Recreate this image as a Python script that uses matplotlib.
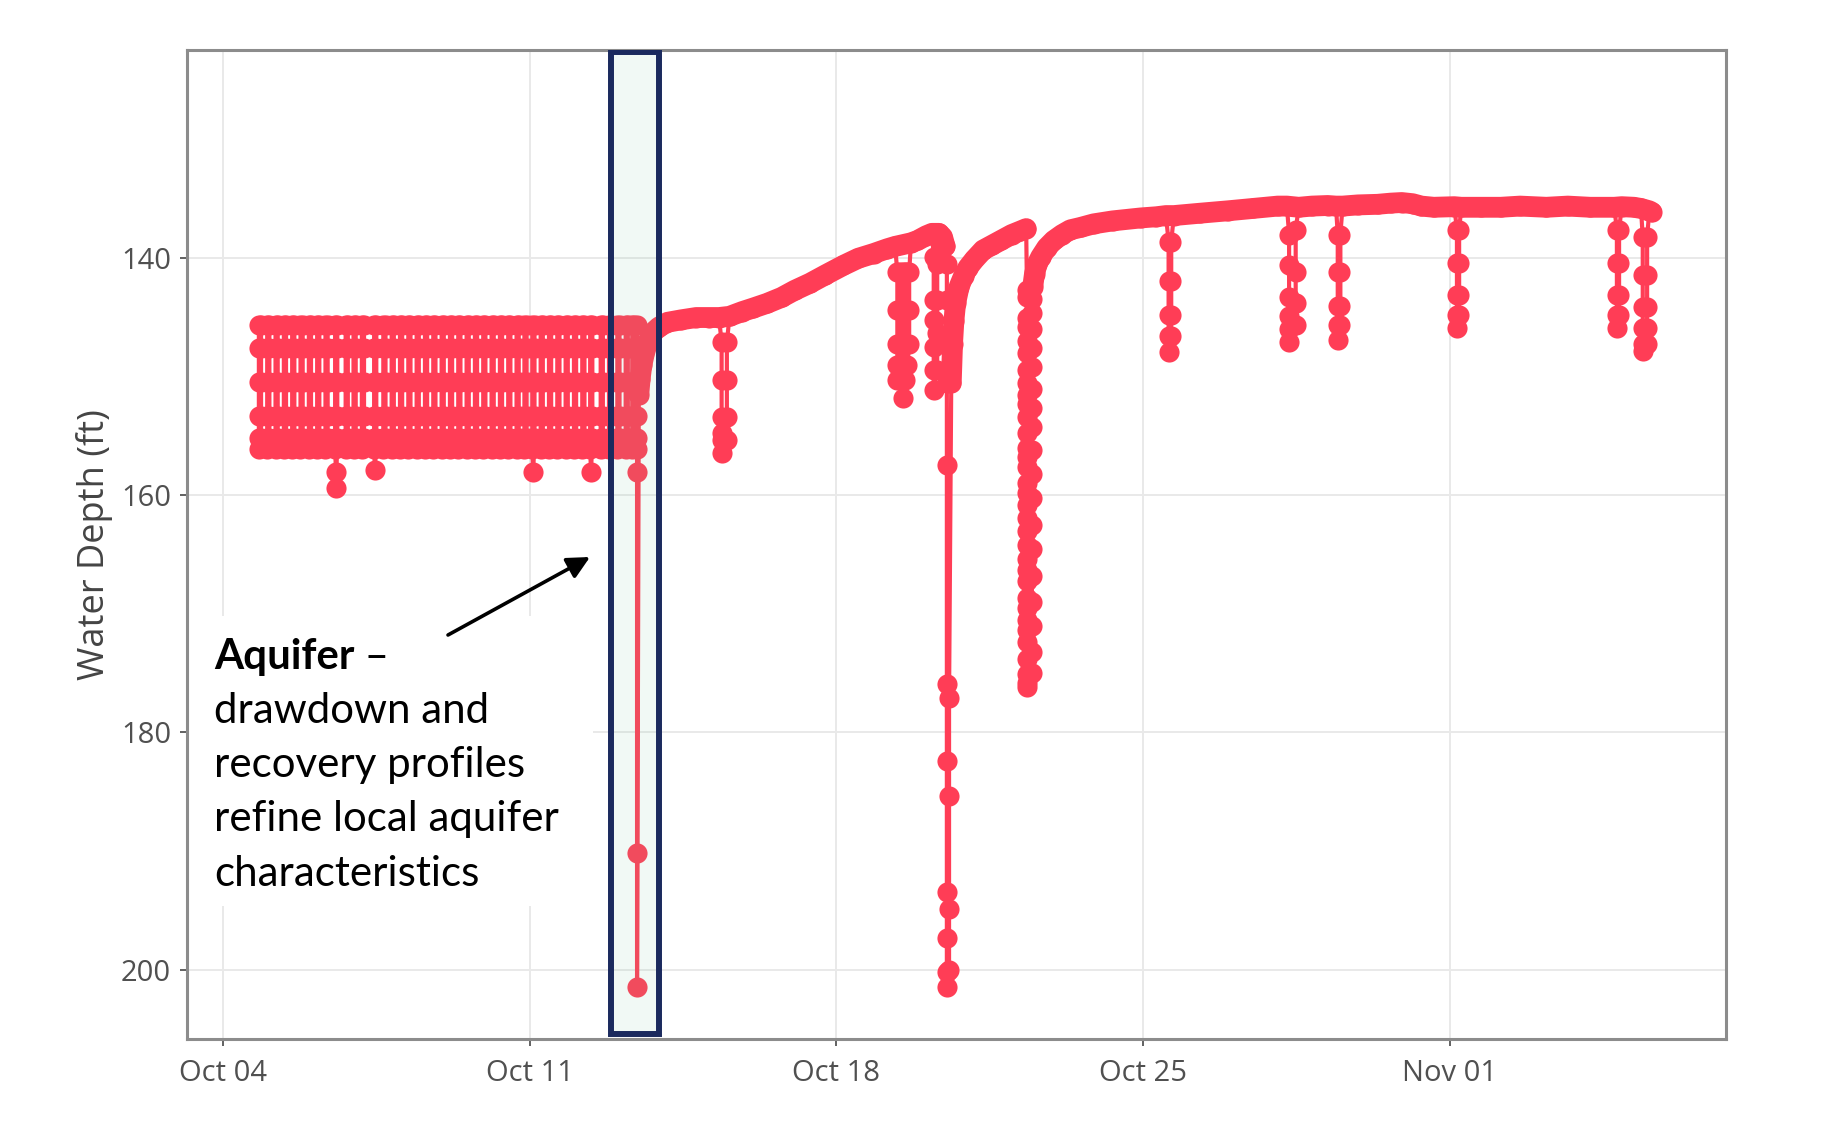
import datetime as dt
import numpy as np
import matplotlib
matplotlib.use("Agg")
import matplotlib.pyplot as plt
import matplotlib.dates as mdates
from matplotlib.patches import Rectangle

plt.rcParams['font.family'] = ['Open Sans', 'DejaVu Sans']

START = dt.datetime(2021, 10, 4)   # day 0 of the record

# ------------------------------------------------------------------ data
# Repeated pumping cycles, Oct 04 - Oct 13 (days after Oct 04)
band_cycle_days = [0.82, 1.01, 1.20, 1.39, 1.58, 1.77, 1.96, 2.15, 2.34, 2.56,
                   2.80, 2.98, 3.17, 3.45, 3.66, 3.85, 4.04, 4.23, 4.42, 4.61,
                   4.80, 4.99, 5.18, 5.37, 5.56, 5.75, 5.94, 6.13, 6.32, 6.51,
                   6.70, 6.88, 7.06, 7.25, 7.44, 7.63, 7.82, 8.01, 8.20, 8.38,
                   8.62, 8.81, 9.00, 9.19, 9.34]
band_cycle_depths = [145.6, 147.6, 150.4, 153.3, 155.2, 156.1]
band_extra_days = [2.56, 3.45, 7.06, 8.38]
band_extra_depths = [[158.0, 159.4], [157.9], [158.0], [158.0]]

# Aquifer test drawdown (Oct 13)
test_day = 9.45
test_depths = [145.6, 147.6, 150.4, 153.3, 155.2, 156.1, 158.0, 190.2, 201.5]

# Recovering water level (trend), three segments
seg1_days = [9.49, 9.52, 9.56, 9.62, 9.70, 9.80, 9.95, 10.15, 10.45, 10.80,
             11.10, 11.32, 11.56, 11.85, 12.10, 12.42, 12.75, 13.05, 13.40,
             13.75, 14.16, 14.50, 14.85, 15.16, 15.34, 15.70, 15.85, 16.05,
             16.18, 16.34, 16.42, 16.48]
seg1_depths = [151.5, 150.2, 149.0, 148.0, 147.0, 146.3, 145.8, 145.4, 145.2, 145.0,
               145.0, 145.0, 144.9, 144.5, 144.2, 143.8, 143.3, 142.7, 142.1,
               141.4, 140.6, 140.0, 139.6, 139.2, 139.0, 138.7, 138.5, 138.1,
               137.9, 137.9, 138.2, 139.0]
seg2_days = [16.62, 16.65, 16.68, 16.72, 16.80, 16.90, 17.00, 17.15, 17.35,
             17.55, 17.75, 18.00, 18.20, 18.33]
seg2_depths = [150.5, 147.2, 145.3, 143.8, 142.4, 141.5, 140.8, 140.1, 139.3,
               138.9, 138.5, 138.0, 137.7, 137.5]
seg3_days = [18.48, 18.52, 18.58, 18.66, 18.80, 18.96, 19.15, 19.34, 19.57, 19.87,
             20.30, 20.94, 21.30, 21.52, 21.70, 22.30, 22.93, 23.50, 24.07, 24.28,
             24.55, 24.85, 25.21, 25.40, 25.55, 25.90, 26.35, 26.65, 26.90, 27.15,
             27.35, 27.63, 28.10, 28.26, 28.70, 29.16, 29.60, 30.20, 30.69, 31.20,
             31.75, 31.92, 32.20, 32.36, 32.55, 32.60]
seg3_depths = [142.4, 141.3, 140.5, 139.9, 139.1, 138.5, 138.0, 137.6, 137.4, 137.1,
               136.85, 136.6, 136.5, 136.4, 136.4, 136.2, 136.0, 135.8, 135.6, 135.6,
               135.7, 135.6, 135.55, 135.6, 135.6, 135.5, 135.45, 135.35, 135.3, 135.4,
               135.6, 135.7, 135.65, 135.7, 135.7, 135.7, 135.6, 135.7, 135.6, 135.7,
               135.7, 135.65, 135.7, 135.8, 136.0, 136.1]

# Drawdown events on the trend: start day, recovery day, depths down / up
event_days = [11.38, 15.39, 15.51, 15.62, 16.22, 16.52, 18.35,
              21.58, 24.33, 25.44, 28.16, 31.81, 32.40]
event_recovery_days = [11.50, 15.45, 15.57, 15.66, 16.30, 16.57, 18.46,
                       21.64, 24.48, 25.50, 28.21, 31.86, 32.50]
event_down = [
    [147.1, 150.3, 153.4, 154.7, 155.3, 156.4],
    [141.2, 144.4, 147.2, 149.0, 150.3],
    [141.2, 144.4, 147.2, 149.0, 150.3, 151.8],
    [141.2, 144.4, 147.2, 149.0],
    [139.9, 143.5, 145.2, 147.5, 149.4, 151.1],
    [140.5, 143.5, 147.0, 150.5, 157.4, 175.9, 182.4, 193.5, 197.3, 200.2, 201.5],
    [142.7, 143.3, 145.0, 145.8, 147.0, 148.0, 149.4, 150.5, 151.5, 152.3, 153.4,
     154.7, 156.0, 156.8, 157.6, 159.0, 159.8, 160.8, 161.9, 163.0, 164.2, 165.4,
     166.3, 167.2, 168.7, 169.5, 170.5, 171.4, 172.4, 173.8, 175.1, 175.8, 176.2],
    [138.6, 141.9, 144.8, 146.6, 147.9],
    [138.0, 140.6, 143.3, 144.9, 146.0, 147.1],
    [138.0, 141.2, 144.0, 145.6, 146.9],
    [137.6, 140.4, 143.1, 144.8, 145.9],
    [137.6, 140.4, 143.1, 144.8, 145.9],
    [138.2, 141.4, 144.1, 145.9, 147.2, 147.8],
]
event_up = [
    [155.3, 153.4, 150.3, 147.1],
    [149.0, 147.2, 144.4, 141.2],
    [150.3, 147.2, 144.4, 141.2],
    [147.2, 144.4, 141.2],
    [149.4, 146.3, 143.5, 140.5],
    [200.0, 194.9, 185.4, 177.1],
    [175.0, 173.2, 171.0, 169.0, 166.8, 164.5, 162.5, 160.2, 158.2, 156.2, 154.2,
     152.6, 151.0, 149.2, 147.6, 146.0, 144.6, 143.4],
    [146.6, 144.8, 141.9, 138.6],
    [145.6, 143.8, 141.2, 137.6],
    [145.6, 144.0, 141.2, 138.0],
    [144.8, 143.1, 140.4, 137.6],
    [144.8, 143.1, 140.4, 137.6],
    [147.2, 145.9, 144.1, 141.4, 138.2],
]

x_tick_dates = ["2021-10-04", "2021-10-11", "2021-10-18", "2021-10-25", "2021-11-01"]
y_ticks = [140, 160, 180, 200]
y_label = "Water Depth (ft)"

# highlighted aquifer-test window (days after Oct 04)
highlight_days = (8.86, 9.96)

# ------------------------------------------------------------------ build series
blocks = []
for t in band_cycle_days:
    pts = [(t, d) for d in band_cycle_depths]
    if t in band_extra_days:
        pts += [(t + 0.02, d) for d in band_extra_depths[band_extra_days.index(t)]]
    pts += [(t + 0.05, d) for d in reversed(band_cycle_depths[:-1])]
    blocks.append((t, pts))
blocks.append((test_day, [(test_day, d) for d in test_depths]))
for sd, sv in ((seg1_days, seg1_depths), (seg2_days, seg2_depths), (seg3_days, seg3_depths)):
    for t, d in zip(sd, sv):
        blocks.append((t, [(t, d)]))
for t0, t1, dn, up in zip(event_days, event_recovery_days, event_down, event_up):
    blocks.append((t0, [(t0, d) for d in dn] + [(t1, d) for d in up]))
blocks.sort(key=lambda b: b[0])
series = [p for _, pts in blocks for p in pts]
base = mdates.date2num(START)
sx = np.array([base + p[0] for p in series])
sy = np.array([p[1] for p in series])

# ------------------------------------------------------------------ figure
W, H = 1824, 1124
fig = plt.figure(figsize=(W / 100, H / 100), dpi=100)
ax = fig.add_axes([187 / W, 1 - 1038.5 / H, (1726 - 187) / W, (1038.5 - 49.5) / H])

RED = '#ff3d56'
ax.plot(sx, sy, color=RED, lw=3.0, marker='o', ms=14.5, mew=0, zorder=3,
        solid_joinstyle='round')
for sd, sv in ((seg1_days, seg1_depths), (seg2_days, seg2_depths), (seg3_days, seg3_depths)):
    ax.plot(base + np.array(sd), sv, color=RED, lw=15, solid_capstyle='round',
            solid_joinstyle='round', zorder=3)

ax.set_xlim(base - 0.82, base + 34.30)
ax.set_ylim(205.82, 122.39)

ax.set_xticks([mdates.date2num(dt.datetime.fromisoformat(s)) for s in x_tick_dates])
ax.xaxis.set_major_formatter(mdates.DateFormatter('%b %d'))
ax.set_yticks(y_ticks)
ax.set_axisbelow(True)
ax.grid(True, color='#e9e9e9', lw=1.4)
for sp in ax.spines.values():
    sp.set_color('#8c8c8c')
    sp.set_linewidth(2.2)
ax.tick_params(direction='out', length=5, width=1.3, color='#555555',
               labelsize=21, labelcolor='#505050')
ax.tick_params(axis='x', pad=10)
ax.tick_params(axis='y', pad=6.5)

fig.text(95 / W, 1 - 545 / H, y_label, rotation=90, ha='center', va='center',
         fontsize=26, color='#444444')

# highlight window
ax.add_patch(Rectangle((base + highlight_days[0], 122.56),
                       highlight_days[1] - highlight_days[0], 205.4 - 122.56,
                       facecolor=(120 / 255, 200 / 255, 160 / 255, 0.10),
                       edgecolor='#1b2a5e', lw=4.3, zorder=4))

# white panel behind the annotation
ax.add_patch(Rectangle((189 / W, 1 - 906 / H), (593 - 189) / W, (906 - 616) / H,
                       transform=fig.transFigure, facecolor='white',
                       edgecolor='none', zorder=1))

# arrow
ax.annotate('', xy=(590, H - 557), xycoords='figure pixels',
            xytext=(448, H - 635), textcoords='figure pixels',
            arrowprops=dict(arrowstyle='-|>,head_length=0.9,head_width=0.45',
                            mutation_scale=15, lw=2.6, color='black',
                            shrinkA=0, shrinkB=0), zorder=6)

# annotation text
ann_font = ['Lato', 'DejaVu Sans']
lines = ["drawdown and", "recovery profiles", "refine local aquifer", "characteristics"]
baselines = [669, 723, 777, 831, 886]
probe = fig.text(0, 0, "refine local aquifer", fontsize=30, family=ann_font)
fig.canvas.draw()
r = fig.canvas.get_renderer()
fs = 30 * 344 / probe.get_window_extent(r).width
probe.remove()
t1 = fig.text(214 / W, 1 - baselines[0] / H, "Aquifer", fontsize=fs, family=ann_font,
              fontweight='bold', va='baseline', ha='left')
fig.canvas.draw()
bb = t1.get_window_extent(r)
fig.text(bb.x1 / W, 1 - baselines[0] / H, " \u2013", fontsize=fs, family=ann_font,
         va='baseline', ha='left')
for ln, b in zip(lines, baselines[1:]):
    fig.text(214 / W, 1 - b / H, ln, fontsize=fs, family=ann_font, va='baseline', ha='left')

fig.savefig('out.png', dpi=100)
